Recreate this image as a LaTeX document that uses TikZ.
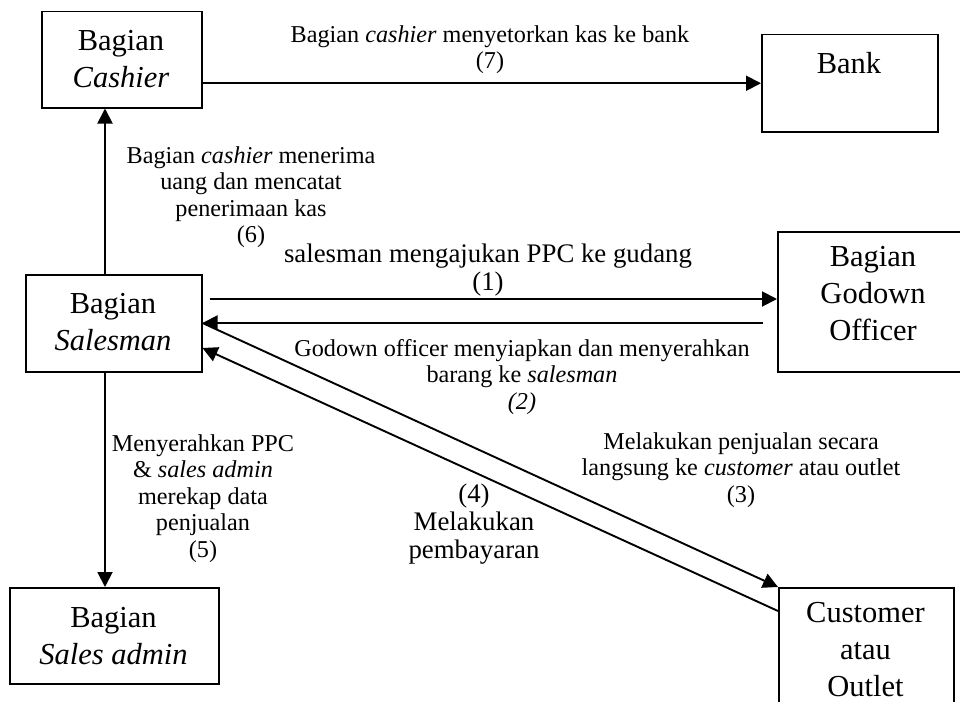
\documentclass[tikz,border=0pt]{standalone}
\usepackage{fontspec}
\setmainfont{Liberation Serif}
\usetikzlibrary{arrows.meta}
\tikzset{
  box/.style={draw, line width=1.5pt, anchor=north west, inner sep=0pt},
  boxtxt/.style={font=\fontsize{30.5}{37}\selectfont, align=center, inner sep=0pt, anchor=north},
  lbl/.style={font=\fontsize{24.2}{26.5}\selectfont, align=center, inner sep=0pt, anchor=north},
  lblbig/.style={font=\fontsize{26.8}{28}\selectfont, align=center, inner sep=0pt, anchor=north},
  arr/.style={line width=1.9pt, -{Triangle[length=15pt,width=15pt]}}
}
\begin{document}
\begin{tikzpicture}[x=1pt,y=-1pt]
\clip (0,0) rectangle (960,701);
\fill[white] (0,0) rectangle (960,701);
% boxes
\node[box, minimum width=160pt, minimum height=96pt] (cash) at (41,11) {};
\node[box, minimum width=176pt, minimum height=97pt] (bank) at (761,34) {};
\node[box, minimum width=176pt, minimum height=97pt] (sales) at (25,274) {};
\node[box, minimum width=192pt, minimum height=140pt] (godown) at (777,231) {};
\node[box, minimum width=209pt, minimum height=96pt] (sadm) at (9,587) {};
\node[box, minimum width=175pt, minimum height=130pt] (cust) at (778,587) {};
% box texts
\node[boxtxt] (cashT) at (121,24.1) {\strut Bagian\\\textit{Cashier}};
\node[boxtxt] (bankT) at (849,47.1) {\strut Bank};
\node[boxtxt] (salesT) at (113,287.1) {\strut Bagian\\\textit{Salesman}};
\node[boxtxt] (godT) at (873,240.1) {\strut Bagian\\Godown\\Officer};
\node[boxtxt] (sadmT) at (113.5,601.1) {\strut Bagian\\\textit{Sales admin}};
\node[boxtxt] (custT) at (865.5,596.1) {\strut Customer\\atau\\Outlet};
% connectors
\draw[arr] (cash.east |- bank.west) -- (bank.west);
\draw[arr] ([xshift=80pt]sales.north west) -- ([xshift=64pt]cash.south west);
\draw[arr] ([xshift=7pt,yshift=-25pt]sales.north east) -- ([yshift=-68pt]godown.north west);
\draw[arr] ([xshift=-14pt,yshift=-92pt]godown.north west) -- ([yshift=-49pt]sales.north east);
\draw[arr] ([yshift=-49pt]sales.north east) -- (cust.north west);
\draw[arr] ([yshift=-24pt]cust.north west) -- ([yshift=-74pt]sales.north east);
\draw[arr] ([xshift=80pt]sales.south west) -- ([xshift=96pt]sadm.north west);
% labels
\node[lbl] (l7) at (490,23.45) {\strut Bagian \textit{cashier} menyetorkan kas ke bank\\(7)};
\node[lbl] (l6) at (251,144.45) {\strut Bagian \textit{cashier} menerima\\uang dan mencatat\\penerimaan kas\\(6)};
\node[lblbig] (l1) at (488,242.4) {\strut salesman mengajukan PPC ke gudang\\(1)};
\node[lbl] (l2) at (522,337.45) {\strut Godown officer menyiapkan dan menyerahkan\\barang ke \textit{salesman}\\\textit{(2)}};
\node[lbl] (l3) at (741,430.45) {\strut Melakukan penjualan secara\\langsung ke \textit{customer} atau outlet\\(3)};
\node[lblbig] (l4) at (474,482.4) {\strut (4)\\Melakukan\\pembayaran};
\node[lbl] (l5) at (203,432.45) {\strut Menyerahkan PPC\\\& \textit{sales admin}\\merekap data\\penjualan\\(5)};
\end{tikzpicture}
\end{document}
